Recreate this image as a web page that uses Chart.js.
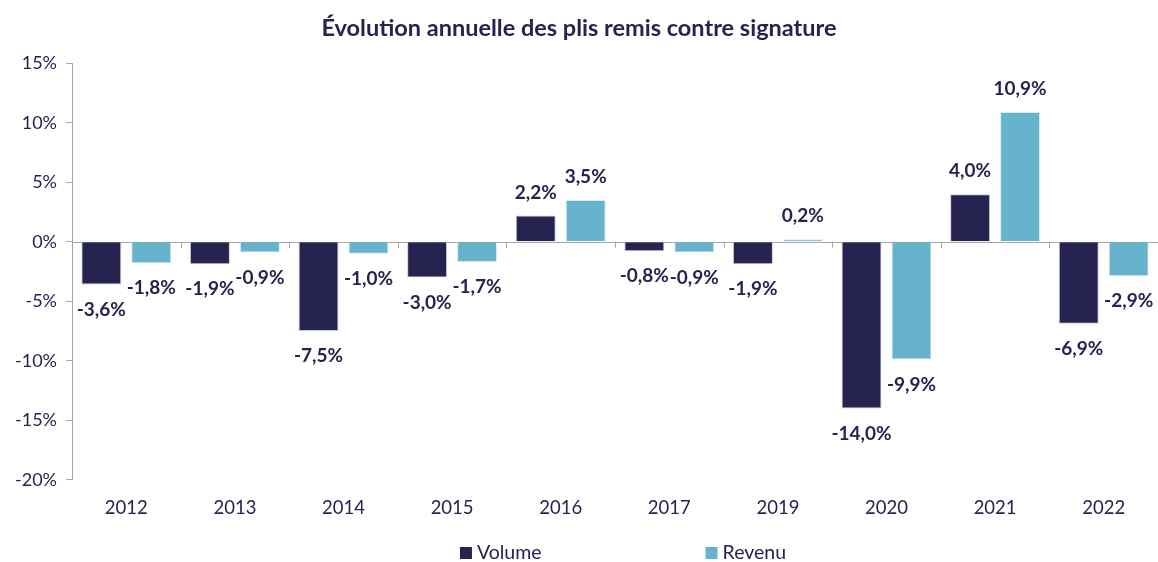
<!DOCTYPE html>
<html>
<head>
<meta charset="utf-8">
<script src="https://cdn.jsdelivr.net/npm/chart.js@4.4.1/dist/chart.umd.min.js"></script>
<style>
  html, body { margin: 0; padding: 0; background: #fff; }
  #wrap { width: 1158px; height: 562px; }
</style>
</head>
<body>
<div id="wrap"><canvas id="chart" width="1158" height="562"></canvas></div>
<script>
// données
const years = ['2012', '2013', '2014', '2015', '2016', '2017', '2019', '2020', '2021', '2022'];
const volume = [-3.6, -1.9, -7.5, -3.0, 2.2, -0.8, -1.9, -14.0, 4.0, -6.9];
const revenu = [-1.8, -0.9, -1.0, -1.7, 3.5, -0.9, 0.2, -9.9, 10.9, -2.9];
const yTicks = [-20, -15, -10, -5, 0, 5, 10, 15];

const NAVY = '#262350';
const BLUE = '#67b3ce';
const AXIS = '#a6a6a6';
const FONT = 'Lato, "Open Sans", sans-serif';

const fmt = v => v.toFixed(1).replace('.', ',') + '%';

// étiquettes de valeurs, ligne du zéro et légende
const decorPlugin = {
    id: 'decor',
    beforeDatasetsDraw(chart) {
        const { ctx, chartArea, scales } = chart;
        const y0 = scales.y.getPixelForValue(0);
        const step = (chartArea.right - chartArea.left) / years.length;
        ctx.save();
        ctx.strokeStyle = AXIS;
        ctx.lineWidth = 1;
        ctx.beginPath();
        ctx.moveTo(chartArea.left, Math.round(y0) + 0.5);
        ctx.lineTo(chartArea.right, Math.round(y0) + 0.5);
        for (let i = 1; i < years.length; i++) {
            const x = Math.round(chartArea.left + i * step) + 0.5;
            ctx.moveTo(x, y0);
            ctx.lineTo(x, y0 + 6);
        }
        ctx.stroke();
        ctx.restore();
    },
    afterDatasetsDraw(chart) {
        const { ctx } = chart;
        ctx.save();
        ctx.font = 'bold 19px ' + FONT;
        ctx.fillStyle = NAVY;
        ctx.textAlign = 'center';
        ctx.textBaseline = 'middle';
        chart.data.datasets.forEach((ds, di) => {
            chart.getDatasetMeta(di).data.forEach((bar, i) => {
                const v = ds.data[i];
                const y = v >= 0 ? bar.y - 23 : bar.y + 25;
                ctx.fillText(fmt(v), bar.x, y);
            });
        });
        ctx.restore();
    },
    afterDraw(chart) {
        const { ctx, chartArea } = chart;
        ctx.save();
        ctx.font = '19.5px ' + FONT;
        ctx.textBaseline = 'middle';
        const gap = 164;
        const items = chart.data.datasets.map(ds => ({
            label: ds.label, color: ds.backgroundColor,
            w: 12 + 5 + ctx.measureText(ds.label).width
        }));
        const total = items.reduce((s, it) => s + it.w, 0) + gap * (items.length - 1);
        let x = (chartArea.left + chartArea.right) / 2 + 8 - total / 2;
        const y = 553;
        items.forEach(it => {
            ctx.fillStyle = it.color;
            ctx.fillRect(x, y - 6, 12, 12);
            ctx.fillStyle = NAVY;
            ctx.fillText(it.label, x + 17, y);
            x += it.w + gap;
        });
        ctx.restore();
    }
};

new Chart(document.getElementById('chart'), {
    type: 'bar',
    data: {
        labels: years,
        datasets: [
            { label: 'Volume', data: volume, backgroundColor: NAVY, borderColor: '#c8c8d4', borderWidth: 1 },
            { label: 'Revenu', data: revenu, backgroundColor: BLUE, borderColor: '#d6eaf2', borderWidth: 1 }
        ]
    },
    options: {
        responsive: false,
        animation: false,
        layout: { padding: { top: 4, right: 0, left: 0, bottom: 34 } },
        datasets: { bar: { categoryPercentage: 0.92, barPercentage: 0.8 } },
        plugins: {
            legend: { display: false },
            tooltip: { enabled: false },
            title: {
                display: true,
                text: 'Évolution annuelle des plis remis contre signature',
                color: NAVY,
                font: { family: FONT, size: 23.5, weight: 'bold' },
                padding: { top: 10, bottom: 21 }
            }
        },
        scales: {
            x: {
                grid: { display: false },
                border: { display: false },
                ticks: { color: NAVY, font: { family: FONT, size: 18.5 }, padding: 9 }
            },
            y: {
                min: -20, max: 15,
                afterBuildTicks: s => { s.ticks = yTicks.map(v => ({ value: v })); },
                afterFit: s => { s.width = 72; },
                grid: { drawOnChartArea: false, color: AXIS, tickLength: 6 },
                border: { display: true, color: AXIS },
                ticks: { color: NAVY, font: { family: FONT, size: 18 }, padding: 9, callback: v => v + '%' }
            }
        }
    },
    plugins: [decorPlugin]
});
</script>
</body>
</html>
